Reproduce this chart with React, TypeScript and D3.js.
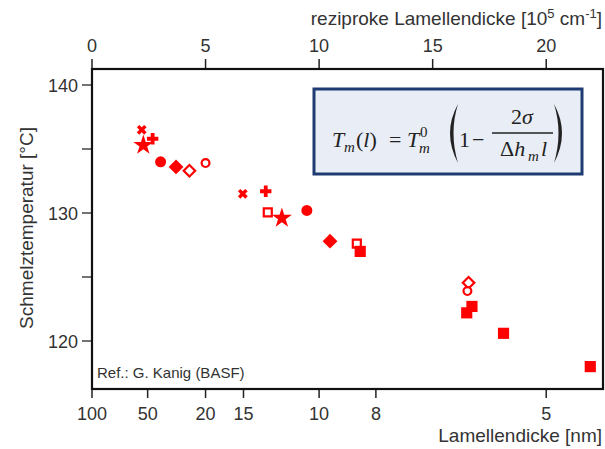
import React from 'react';
import * as d3 from 'd3';

// reciprocal thickness [10^5 cm^-1] vs melting temperature [°C], grouped by marker
const crossPts = [[2.19, 136.5], [6.64, 131.5]];
const plusPts = [[2.67, 135.8], [7.65, 131.7]];
const starPts = [[2.26, 135.3], [8.36, 129.6]];
const dotPts = [[3.02, 134.0], [9.46, 130.2]];
const diamondPts = [[3.7, 133.6], [10.48, 127.8]];
const openDiamondPts = [[4.29, 133.3], [16.58, 124.55]];
const ringPts = [[5.0, 133.9], [16.53, 123.9]];
const openSquarePts = [[7.74, 130.05], [11.66, 127.6]];
const squarePts = [[11.81, 127.0], [16.73, 122.7], [16.5, 122.2], [18.12, 120.6], [21.94, 118.0]];

const topTicks = [0, 5, 10, 15, 20];
const bottomTickLabels = ['100', '50', '20', '15', '10', '8', '5'];
const bottomTickPos = [0, 2.45, 5, 6.67, 10, 12.5, 20];
const yTicks = [120, 125, 130, 135, 140];
const yLabeled = [120, 130, 140];

const W = 605, H = 449;
const L = 92, R = 603, T = 69, B = 389;
const RED = '#ff0000';
const INK = '#333';
const SANS = 'Liberation Sans, Arial, sans-serif';
const SERIF = 'Liberation Serif, DejaVu Serif, serif';

export default function App() {
  const x = d3.scaleLinear().domain([0, 22.5]).range([L, R]);
  const y = d3.scaleLinear().domain([116.25, 141.25]).range([B, T]);

  const sym = (type: d3.SymbolType, size: number) => d3.symbol().type(type).size(size)() || '';

  const group = (pts: number[][], draw: (key: number) => React.ReactNode) =>
    pts.map((p, i) => (
      <g key={i} transform={`translate(${x(p[0])},${y(p[1])})`}>{draw(i)}</g>
    ));

  return (
    <svg width={W} height={H} style={{ position: 'absolute', left: 0, top: 0, background: '#fff' }}>
      {/* titles */}
      <text x={602} y={25} textAnchor="end" fontFamily={SANS} fontSize={19} fill={INK}>
        reziproke Lamellendicke [10<tspan dy={-7} fontSize={13}>5</tspan>
        <tspan dy={7}> cm</tspan><tspan dy={-7} fontSize={13}>-1</tspan><tspan dy={7}>]</tspan>
      </text>
      <text x={602} y={442} textAnchor="end" fontFamily={SANS} fontSize={19} fill={INK}>
        Lamellendicke [nm]
      </text>
      <text transform="translate(33,228) rotate(-90)" textAnchor="middle" fontFamily={SANS} fontSize={19} fill={INK}>
        Schmelztemperatur [°C]
      </text>

      {/* top axis */}
      {topTicks.map(t => (
        <g key={t}>
          <line x1={x(t)} x2={x(t)} y1={T} y2={T - 10} stroke="#222" strokeWidth={1.5} />
          <text x={x(t)} y={52} textAnchor="middle" fontFamily={SANS} fontSize={18} fill={INK}>{t}</text>
        </g>
      ))}

      {/* bottom axis */}
      {bottomTickPos.map((t, i) => (
        <g key={i}>
          <line x1={x(t)} x2={x(t)} y1={B} y2={B + 9} stroke="#222" strokeWidth={1.5} />
          <text x={x(t)} y={420} textAnchor="middle" fontFamily={SANS} fontSize={18} fill={INK}>{bottomTickLabels[i]}</text>
        </g>
      ))}

      {/* left axis */}
      {yTicks.map(t => (
        <g key={t}>
          <line x1={L} x2={L - 10} y1={y(t)} y2={y(t)} stroke="#444" strokeWidth={1.5} />
          {yLabeled.includes(t) && (
            <text x={78} y={y(t) + 6.5} textAnchor="end" fontFamily={SANS} fontSize={18} fill={INK}>{t}</text>
          )}
        </g>
      ))}

      {/* frame */}
      <rect x={L} y={T} width={R - L} height={B - T} fill="none" stroke="#111" strokeWidth={2.2} />

      {/* formula box */}
      <rect x={314} y={89} width={268} height={85} fill="#e9edf5" stroke="#1f3b73" strokeWidth={3} />
      <g fontFamily={SERIF} fill="#222">
        <text x={332} y={147} fontSize={22} fontStyle="italic">T</text>
        <text x={344} y={152} fontSize={15} fontStyle="italic">m</text>
        <text x={356} y={147} fontSize={22}>(<tspan fontStyle="italic">l</tspan>)</text>
        <text x={389} y={147} fontSize={22}>=</text>
        <text x={407} y={147} fontSize={22} fontStyle="italic">T</text>
        <text x={420} y={137} fontSize={15}>0</text>
        <text x={419} y={153} fontSize={15} fontStyle="italic">m</text>
        <path d="M458,104 Q442,133 458,163 Q449,133 458,104 Z" />
        <text x={459} y={147} fontSize={22}>1</text>
        <text x={472} y={147} fontSize={22}>−</text>
        <text x={522} y={124} fontSize={22} textAnchor="middle">2<tspan fontStyle="italic">σ</tspan></text>
        <line x1={492} x2={553} y1={133} y2={133} stroke="#222" strokeWidth={1.3} />
        <text x={500} y={156} fontSize={22}>Δ<tspan fontStyle="italic">h</tspan></text>
        <text x={528} y={161} fontSize={15} fontStyle="italic">m</text>
        <text x={541} y={156} fontSize={22} fontStyle="italic">l</text>
        <path d="M554,104 Q570,133 554,163 Q563,133 554,104 Z" />
      </g>

      <text x={97} y={378} fontFamily={SANS} fontSize={15} fill={INK}>Ref.: G. Kanig (BASF)</text>

      {/* markers */}
      <g fill={RED} stroke="none">
        {group(crossPts, () => <path d={sym(d3.symbolCross, 60)} transform="rotate(45)" />)}
        {group(plusPts, () => <path d={sym(d3.symbolCross, 72)} />)}
        {group(starPts, () => <path d={sym(d3.symbolStar, 125)} />)}
        {group(dotPts, () => <path d={sym(d3.symbolCircle, 95)} />)}
        {group(diamondPts, () => <path d={sym(d3.symbolSquare, 110)} transform="rotate(45)" />)}
        {group(openDiamondPts, () => (
          <path d={sym(d3.symbolSquare, 66)} transform="rotate(45)" fill="#fff" stroke={RED} strokeWidth={2.2} />
        ))}
        {group(ringPts, () => (
          <path d={sym(d3.symbolCircle, 48)} fill="#fff" stroke={RED} strokeWidth={2.2} />
        ))}
        {group(openSquarePts, () => (
          <path d={sym(d3.symbolSquare, 64)} fill="#fff" stroke={RED} strokeWidth={2.2} />
        ))}
        {group(squarePts, () => <path d={sym(d3.symbolSquare, 125)} />)}
      </g>
    </svg>
  );
}
